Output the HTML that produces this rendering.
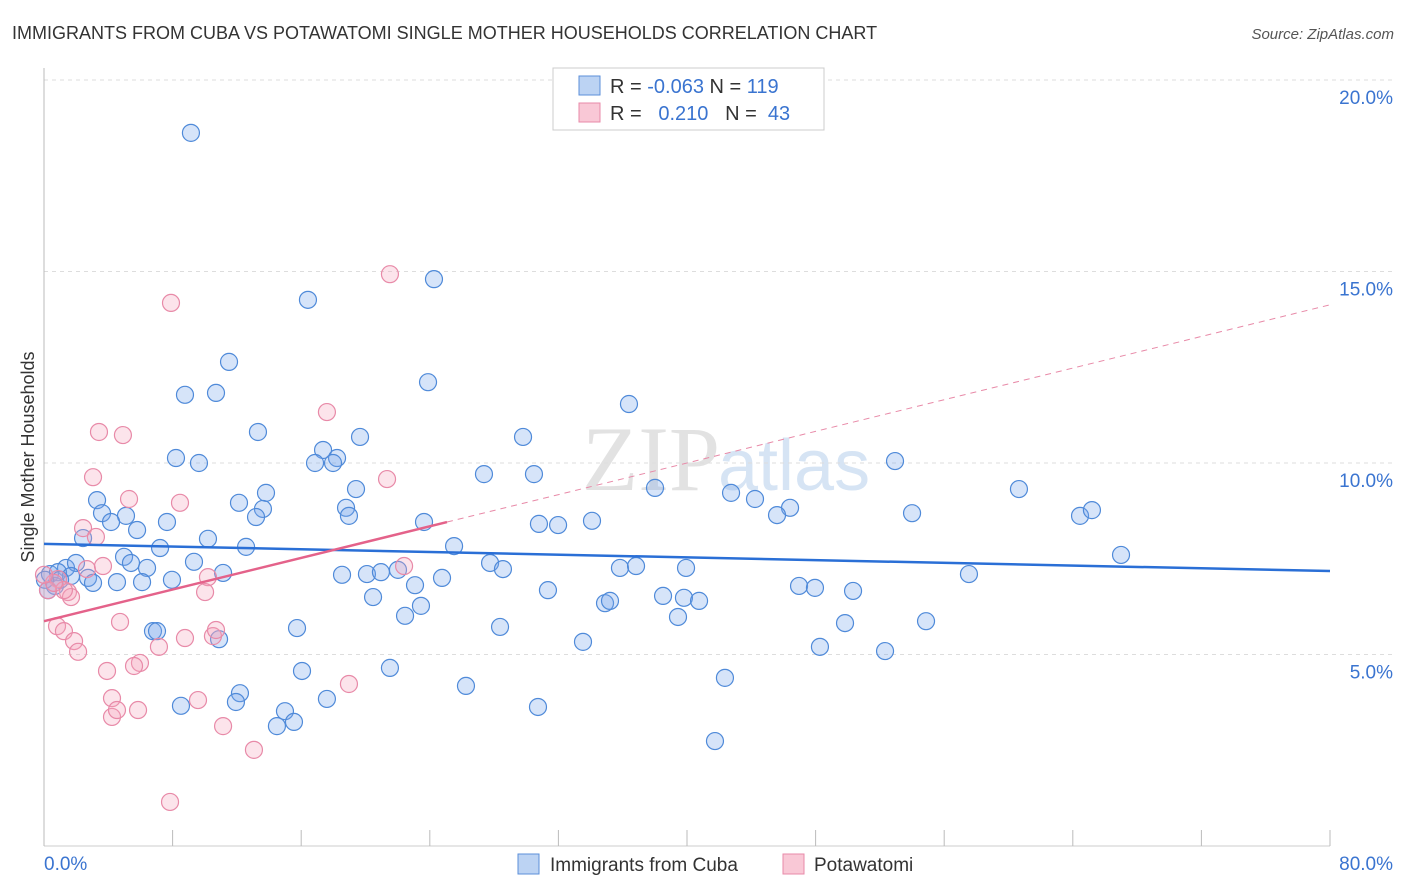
<!DOCTYPE html>
<html><head><meta charset="utf-8">
<style>
body{margin:0;background:#fff;font-family:"Liberation Sans",sans-serif;}
svg{display:block}
</style></head>
<body>
<svg id="chart" width="1406" height="892" xmlns="http://www.w3.org/2000/svg">
<text x="12" y="39" font-size="18" fill="#333" font-family="Liberation Sans, sans-serif">IMMIGRANTS FROM CUBA VS POTAWATOMI SINGLE MOTHER HOUSEHOLDS CORRELATION CHART</text>
<text x="1394" y="39" font-size="15" fill="#555" text-anchor="end" font-style="italic">Source: ZipAtlas.com</text>
<text x="720" y="490" font-size="92" fill="#d6d6d6" text-anchor="end" font-family="Liberation Serif, serif" opacity="0.7">ZIP</text>
<text x="718" y="490" font-size="72" fill="#bcd3ee" opacity="0.6">atlas</text>
<g id="grid"></g>
<g id="axes"></g>
<g id="points"></g>
<g id="lines"></g>
<text transform="translate(34,457) rotate(-90)" font-size="18" fill="#333" text-anchor="middle">Single Mother Households</text>
<g>
<rect x="553" y="68" width="271" height="62" fill="#fff" stroke="#ccc"/>
<rect x="579" y="76" width="21" height="19" fill="#bcd3f3" stroke="#5b8fd9"/>
<rect x="579" y="103" width="21" height="19" fill="#f9c8d6" stroke="#e88aa8"/>
<text x="610" y="93" font-size="20" fill="#333">R = <tspan fill="#3a74d0">-0.063</tspan>   N = <tspan fill="#3a74d0">119</tspan></text>
<text x="610" y="120" font-size="20" fill="#333" xml:space="preserve">R =   <tspan fill="#3a74d0">0.210</tspan>   N =  <tspan fill="#3a74d0">43</tspan></text>
</g>
<g>
<rect x="518" y="854" width="21" height="20" fill="#bcd3f3" stroke="#5b8fd9"/>
<text x="550" y="871" font-size="19" fill="#333">Immigrants from Cuba</text>
<rect x="783" y="854" width="21" height="20" fill="#f9c8d6" stroke="#e88aa8"/>
<text x="814" y="871" font-size="19" fill="#333">Potawatomi</text>
</g>
</svg>
<script>
const yTicks=[5,10,15,20];
const yTickLabels=["5.0%","10.0%","15.0%","20.0%"];
const xTickLabels=["0.0%","80.0%"];
const cubaX=[9.14,24.26,16.42,11.51,23.89,8.77,10.70,36.39,13.31,29.80,19.66,8.21,17.36,9.64,18.23,16.86,17.98,52.94,27.37,30.48,3.30,13.81,12.13,19.41,38.01,42.74,44.23,60.65,3.61,5.10,13.62,13.19,18.79,18.97,46.41,45.60,54.00,64.45,65.19,4.17,5.79,7.65,23.64,30.79,31.98,34.09,2.43,10.20,7.22,12.57,25.51,4.98,5.41,9.33,6.41,67.00,27.75,28.55,1.37,1.99,0.37,0.87,1.68,2.74,3.05,4.54,6.10,7.96,11.14,18.54,20.09,20.96,22.02,24.76,23.08,35.83,36.83,39.94,57.54,31.35,46.97,47.96,50.33,20.47,23.45,22.46,34.90,35.21,38.51,39.81,40.75,39.44,49.83,54.87,6.78,7.03,15.74,28.37,33.53,10.89,48.27,52.32,16.05,21.52,42.36,26.25,12.19,11.94,17.60,8.52,30.73,14.99,14.49,15.55,41.74,0.68,1.00,0.06,0.25];
const cubaY=[18.62,14.80,14.26,12.64,12.11,11.78,11.83,11.54,10.81,10.68,10.68,10.13,10.34,10.00,10.13,10.00,10.00,10.05,9.71,9.71,9.03,9.22,8.96,9.32,9.35,9.22,9.06,9.32,8.69,8.62,8.80,8.59,8.83,8.62,8.83,8.64,8.69,8.62,8.77,8.46,8.25,8.46,8.46,8.41,8.38,8.49,8.04,8.02,7.78,7.81,7.83,7.55,7.39,7.42,7.26,7.60,7.39,7.23,7.26,7.39,7.10,7.15,7.05,7.00,6.87,6.89,6.89,6.95,7.13,7.08,7.10,7.15,7.21,7.00,6.81,7.26,7.31,7.26,7.10,6.68,6.79,6.74,6.66,6.50,6.27,6.01,6.34,6.40,6.53,6.48,6.40,5.98,5.82,5.87,5.61,5.61,5.69,5.72,5.33,5.40,5.20,5.09,4.57,4.65,4.39,4.18,3.99,3.76,3.84,3.66,3.63,3.52,3.13,3.24,2.74,6.79,6.95,6.95,6.68];
const potX=[21.52,7.90,17.60,3.42,4.91,3.05,21.34,5.29,8.46,2.43,3.23,2.67,3.67,10.20,0.87,1.49,1.68,10.02,1.24,0.25,0.62,4.73,0.81,1.24,1.87,2.12,8.77,10.51,10.70,7.15,3.92,5.97,5.60,4.23,4.23,4.54,5.85,9.58,18.97,11.14,13.06,7.84,22.40,0];
const potY=[14.93,14.18,11.33,10.81,10.73,9.63,9.58,9.06,8.96,8.30,8.07,7.23,7.31,7.02,6.97,6.63,6.50,6.63,6.68,6.68,6.87,5.85,5.74,5.61,5.35,5.07,5.43,5.48,5.64,5.20,4.57,4.78,4.70,3.86,3.37,3.55,3.55,3.81,4.23,3.13,2.51,1.15,7.31,7.08];
const cubaTrend=[7.89,7.18];
const potTrend=[5.87,14.13];
const potSolidEnd=25.07;

const NS="http://www.w3.org/2000/svg";
const X0=44,X1=1330,Y0=846,PXPER=38.3;
function xs(v){return X0+(v/80)*(X1-X0);}
function ys(v){return Y0-v*PXPER;}
function mk(tag,attrs,parent){const e=document.createElementNS(NS,tag);for(const k in attrs)e.setAttribute(k,attrs[k]);parent.appendChild(e);return e;}
const grid=document.getElementById('grid'),axes=document.getElementById('axes'),pts=document.getElementById('points'),lines=document.getElementById('lines');
mk('line',{x1:X0,x2:1394,y1:80,y2:80,stroke:'#ddd','stroke-dasharray':'4,4'},grid);
yTicks.forEach((t,i)=>{
  const l=mk('line',{x1:X0,x2:1394,y1:ys(t),y2:ys(t),stroke:'#ddd','stroke-dasharray':'4,4'},grid);
  
  
  const tx=mk('text',{x:1393,y:ys(t)+24,'font-size':19,fill:'#3a74d0','text-anchor':'end'},axes);
  tx.textContent=yTickLabels[i];
  
  
});
mk('line',{x1:X0,x2:X0,y1:68,y2:Y0,stroke:'#bbb'},axes);
mk('line',{x1:X0,x2:X1,y1:Y0,y2:Y0,stroke:'#ccc'},axes);
for(let i=0;i<=10;i++){const x=xs(i*8);const t=mk('line',{x1:x,x2:x,y1:830,y2:Y0,stroke:'#bbb'},axes);
  
  }
const xl0=mk('text',{x:44,y:870,'font-size':19,fill:'#3a74d0'},axes);xl0.textContent=xTickLabels[0];


const xl1=mk('text',{x:1393,y:870,'font-size':19,fill:'#3a74d0','text-anchor':'end'},axes);xl1.textContent=xTickLabels[1];


cubaX.forEach((v,i)=>{const c=mk('circle',{cx:xs(v),cy:ys(cubaY[i]),r:8.5,fill:'rgba(120,165,235,0.3)',stroke:'#4f8ad9','stroke-width':1.2},pts);
  
  });
potX.forEach((v,i)=>{const c=mk('circle',{cx:xs(v),cy:ys(potY[i]),r:8.5,fill:'rgba(245,165,190,0.3)',stroke:'#e88aa8','stroke-width':1.2},pts);
  
  });
const bl=mk('line',{x1:xs(0),y1:ys(cubaTrend[0]),x2:xs(80),y2:ys(cubaTrend[1]),stroke:'#2a6fd6','stroke-width':2.5},lines);


const pMid=potTrend[0]+(potTrend[1]-potTrend[0])*potSolidEnd/80;
const pl=mk('line',{x1:xs(0),y1:ys(potTrend[0]),x2:xs(potSolidEnd),y2:ys(pMid),stroke:'#e4628a','stroke-width':2.5},lines);


const pd=mk('line',{x1:xs(potSolidEnd),y1:ys(pMid),x2:xs(80),y2:ys(potTrend[1]),stroke:'#e88aa8','stroke-width':1,'stroke-dasharray':'6,5'},lines);


</script>
</body></html>
